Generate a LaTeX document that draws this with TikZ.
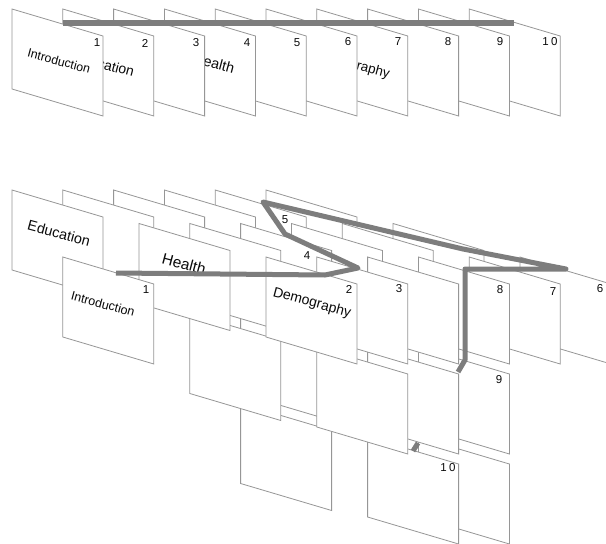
\documentclass[tikz,border=0pt]{standalone}
\usepackage{fontspec}
\setmainfont{Liberation Sans}
\definecolor{cardgray}{RGB}{150,150,150}
\definecolor{pathgray}{RGB}{125,125,125}
\definecolor{inkc}{RGB}{10,10,10}
\tikzset{
  card/.style={draw=cardgray, fill=white, line width=0.8pt, line join=miter},
  trail/.style={draw=pathgray, line width=5pt, line join=round},
  num/.style={inner sep=0pt, text=inkc, font=\fontsize{11.5}{13}\selectfont},
  lab/.style={inner sep=0pt, rotate=-15, text=inkc},
}
\newcommand{\slide}[3]{\coordinate (#1) at (#2,#3);
  \path[card] (#1) -- ++(91,27) -- ++(0,80) -- ++(-91,-27) -- cycle;}
\newcommand{\bslide}[4]{\pgfmathsetmacro\bx{12+50.8*#2+25.4*#3}%
  \pgfmathsetmacro\by{190+33.5*#3+90*#4}%
  \slide{#1}{\bx}{\by}}
\begin{document}
\begin{tikzpicture}[x=1pt,y=-1pt]
\useasboundingbox (0,0) rectangle (606,544);
% ---------------- top row ----------------
\slide{t10}{469.2}{9} \node[num] (n10) at (550,42) {1\kern2.5pt0};
\slide{t9}{418.4}{9}  \node[num] (n9) at (500,42) {9};
\slide{t8}{367.6}{9}  \node[num] (n8) at (448,42) {8};
\slide{t7}{316.8}{9}  \node[num] (n7) at (398,42) {7};
\node[lab,font=\fontsize{13.5}{15}\selectfont] (tdemo) at (352,65) {Demography};
\slide{t6}{266}{9}    \node[num] (n6) at (348,42) {6};
\slide{t5}{215.2}{9}  \node[num] (n5) at (297,43) {5};
\slide{t4}{164.4}{9}  \node[num] (n4) at (247,43) {4};
\node[lab,font=\fontsize{14.5}{16}\selectfont] (thealth) at (214,63) {Health};
\slide{t3}{113.6}{9}  \node[num] (n3) at (196,43) {3};
\slide{t2}{62.8}{9}   \node[num] (n2) at (145,43) {2};
\node[lab,font=\fontsize{14}{16}\selectfont] (tedu) at (104,64) {Education};
\slide{t1}{12}{9}     \node[num] (n1) at (97,43) {1};
\node[lab,font=\fontsize{12.3}{14}\selectfont] (tintro) at (59,61) {Introduction};
\coordinate (ta) at (63,23);
\coordinate (tb) at (514,23);
\draw[trail,line width=6pt] (ta) -- (tb);
% ---------------- bottom: back row ----------------
\bslide{a5}{5}{0}{0}
\bslide{a4}{4}{0}{0}
\bslide{a3}{3}{0}{0}
\bslide{a2}{2}{0}{0}
\bslide{a1}{1}{0}{0}
\bslide{a0}{0}{0}{0}
\node[lab,font=\fontsize{14.4}{16}\selectfont] (bedu) at (59,233) {Education};
% ---------------- middle row ----------------
\bslide{b7}{7}{1}{0}
\bslide{b6}{6}{1}{0}
\bslide{b5}{5}{1}{0}
\bslide{b4}{4}{1}{0}
\bslide{b4m}{4}{1}{1}
\bslide{b4n}{4}{1}{2}
\bslide{b3}{3}{1}{0}
\bslide{b3m}{3}{1}{1}
\bslide{b2}{2}{1}{0}
\node[lab,font=\fontsize{15.4}{17}\selectfont] (bhealth) at (184,264) {Health};
% ---------------- front row ----------------
\bslide{c9}{9}{2}{0}
\bslide{c8}{8}{2}{0}
\bslide{c7}{7}{2}{0}
\bslide{c7m}{7}{2}{1}
\bslide{c7n}{7}{2}{2}
\bslide{c6}{6}{2}{0}
\bslide{c6m}{6}{2}{1}
\bslide{c6n}{6}{2}{2}
\bslide{c5}{5}{2}{0}
\bslide{c5m}{5}{2}{1}
\bslide{c4}{4}{2}{0}
\node[lab,font=\fontsize{14}{16}\selectfont] (bdemo) at (312,303) {Demography};
\bslide{c0}{0}{2}{0}
\node[lab,font=\fontsize{12.5}{14}\selectfont] (bintro) at (103,304) {Introduction};
% numbers
\node[num] (m1) at (146,290) {1};
\node[num] (m2) at (349,289) {2};
\node[num] (m3) at (399,289) {3};
\node[num] (m4) at (307,256) {4};
\node[num] (m5) at (285,220) {5};
\node[num] (m6) at (600,289) {6};
\node[num] (m7) at (553,292) {7};
\node[num] (m8) at (500,290) {8};
\node[num] (m9) at (499,380) {9};
\node[num] (m10) at (448,468) {1\kern2.5pt0};
% path
\coordinate (p1) at (116,273);
\coordinate (p2) at (325,275);
\coordinate (p3) at (358,268);
\coordinate (p4) at (285,234);
\coordinate (p5) at (263,202);
\coordinate (p5a) at (463,249);
\coordinate (p6) at (566,269);
\coordinate (p7) at (465,269);
\coordinate (p8) at (465,360);
\coordinate (p9) at (458,372);
\coordinate (s1) at (418,443);
\coordinate (s2) at (413,451);
\draw[trail] (p1) -- (p2) -- (p3) -- (p4) -- (p5) -- (p5a) -- (p6) -- (p7) -- (p8) -- (p9);
\draw[trail] (s1) -- (s2);
\end{tikzpicture}
\end{document}
